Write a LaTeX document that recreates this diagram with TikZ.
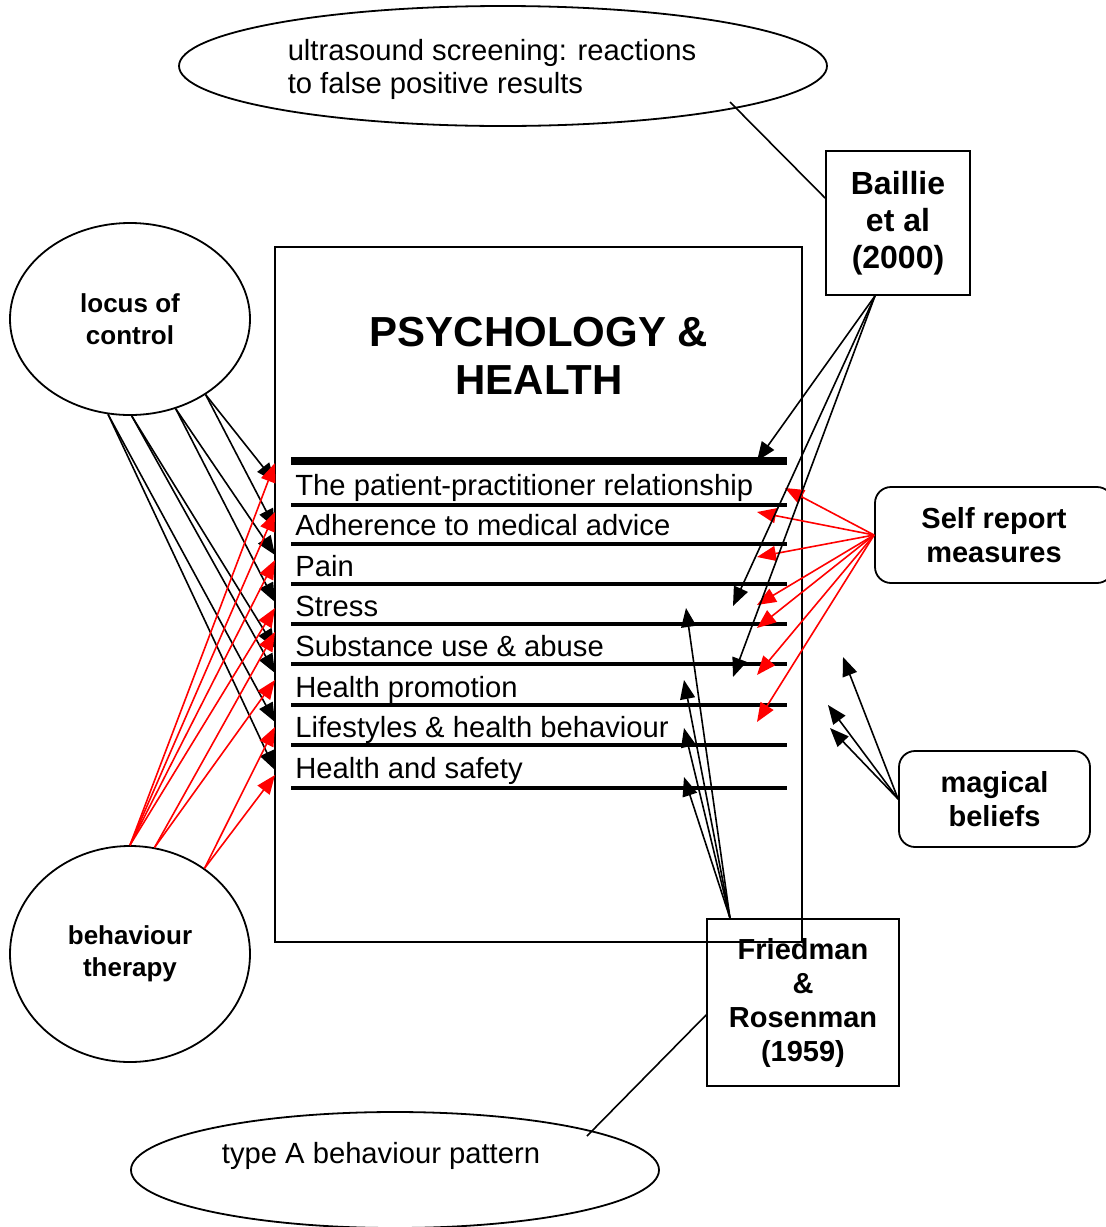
\documentclass[tikz,border=0pt]{standalone}
\usepackage{fontspec}
\setmainfont{Liberation Sans}
\usetikzlibrary{positioning, shapes.geometric, calc, arrows.meta}
\tikzset{
        concept-ellipse/.style={
            ellipse, draw, line width=0.9pt, inner sep=0pt, align=center,
            font=\fontsize{13}{16}\selectfont\bfseries
        },
        note-ellipse/.style={
            ellipse, draw, line width=0.9pt, inner sep=0pt
        },
        note-text/.style={align=left, font=\fontsize{14.6}{16.5}\selectfont},
        study-box/.style={
            rectangle, draw, line width=0.9pt, inner sep=0pt, align=center,
            font=\fontsize{14.5}{17}\selectfont\bfseries
        },
        method-box/.style={
            rectangle, rounded corners=8pt, draw, line width=0.9pt, inner sep=0pt, align=center,
            font=\fontsize{14.5}{17}\selectfont\bfseries
        },
        topic-row/.style={anchor=base west, inner sep=0pt, font=\fontsize{14.6}{17}\selectfont},
        row-rule/.style={line width=2pt},
        link/.style={line width=0.8pt, -{Triangle[length=9.5pt, width=7.5pt]}},
        red-link/.style={link, red},
        plain-link/.style={line width=0.8pt},
}

\begin{document}
\begin{tikzpicture}[x=0.5pt, y=-0.5pt]

        \useasboundingbox (0,0) rectangle (1106,1227);

        % DRAW NODES (placed at pixel positions of the sheet)
        \node[study-box, minimum width=263.5pt, minimum height=347.5pt] (psych) at (538.5,594.5) {};
        \node[font=\fontsize{21}{24}\selectfont\bfseries, align=center] (title) at (539,356) {PSYCHOLOGY \&\\HEALTH};
        \node[note-ellipse, minimum width=324pt, minimum height=60pt,
              label={[note-text, xshift=-5.5pt, yshift=-1.5pt]center:ultrasound screening: reactions\\to false positive results}] (screening) at (503,66) {};
        \node[note-ellipse, minimum width=264pt, minimum height=58pt,
              label={[note-text, xshift=-7pt, yshift=7pt]center:type A behaviour pattern}] (typea) at (395,1170) {};
        \node[concept-ellipse, minimum width=120pt, minimum height=96pt]  (locus)   at (130,319)  {locus of\\control};
        \node[concept-ellipse, minimum width=120pt, minimum height=108pt] (therapy) at (130,954)  {behaviour\\therapy};
        \node[study-box, minimum width=72pt, minimum height=72pt, font=\fontsize{16}{18.5}\selectfont\bfseries]
                                                                          (baillie) at (898,223)  {Baillie\\et al\\(2000)};
        \node[study-box, minimum width=96pt, minimum height=83.5pt]       (friedman) at (803,1002.5) {Friedman\\\&\\Rosenman\\(1959)};
        \node[method-box, minimum width=119pt, minimum height=48pt]       (selfreport) at (994,535) {Self report\\measures};
        \node[method-box, minimum width=95.5pt, minimum height=48pt]      (magical) at (994.5,799) {magical\\beliefs};

        % TOPIC ROWS
        \node[topic-row] (row1) at (295,495) {The patient-practitioner relationship};
        \node[topic-row] (row2) at (295,535) {Adherence to medical advice};
        \node[topic-row] (row3) at (295,576) {Pain};
        \node[topic-row] (row4) at (295,616) {Stress};
        \node[topic-row] (row5) at (295,656) {Substance use \& abuse};
        \node[topic-row] (row6) at (295,697) {Health promotion};
        \node[topic-row] (row7) at (295,737) {Lifestyles \& health behaviour};
        \node[topic-row] (row8) at (295,778) {Health and safety};

        % RULES BETWEEN ROWS
        \draw[row-rule, line width=4pt] (291,461) -- (787,461);
        \draw[row-rule] (291,505) -- (787,505);
        \draw[row-rule] (291,544) -- (787,544);
        \draw[row-rule] (291,584) -- (787,584);
        \draw[row-rule] (291,624) -- (787,624);
        \draw[row-rule] (291,664) -- (787,664);
        \draw[row-rule] (291,705) -- (787,705);
        \draw[row-rule] (291,745) -- (787,745);
        \draw[row-rule] (291,788) -- (787,788);

        % ARROW ENDS
        \coordinate (lc1) at (275,482);
        \coordinate (lc2) at (275,528);
        \coordinate (lc3) at (275,555);
        \coordinate (lc4) at (275,602);
        \coordinate (lc5) at (275,648);
        \coordinate (lc6) at (275,673);
        \coordinate (lc7) at (275,722);
        \coordinate (lc8) at (275,770);
        \coordinate (bt1) at (275,463);
        \coordinate (bt2) at (275,512);
        \coordinate (bt3) at (275,560);
        \coordinate (bt4) at (275,608);
        \coordinate (bt5) at (275,632);
        \coordinate (bt6) at (275,680);
        \coordinate (bt7) at (275,727);
        \coordinate (bt8) at (275,775);
        \coordinate (sr1) at (785,488);
        \coordinate (sr2) at (757,512);
        \coordinate (sr3) at (757,557);
        \coordinate (sr4) at (757,605);
        \coordinate (sr5) at (757,628);
        \coordinate (sr6) at (757,675);
        \coordinate (sr7) at (757,722);
        \coordinate (ba1) at (757,461);
        \coordinate (ba2) at (733,606);
        \coordinate (ba3) at (733,677);
        \coordinate (fr1) at (686,608);
        \coordinate (fr2) at (684,680);
        \coordinate (fr3) at (684,728);
        \coordinate (fr4) at (684,777);
        \coordinate (mb1) at (843,657);
        \coordinate (mb2) at (828,705);
        \coordinate (mb3) at (830,728);
        \coordinate (sc)  at (730,102);
        \coordinate (ta)  at (587,1136);

        % CONNECT LOCUS OF CONTROL
        \draw[link] (locus.-45)  -- (lc1);
        \draw[link] (locus.-45)  -- (lc2);
        \draw[link] (locus.-63)  -- (lc3);
        \draw[link] (locus.-63)  -- (lc4);
        \draw[link] (locus.-89)  -- (lc5);
        \draw[link] (locus.-89)  -- (lc6);
        \draw[link] (locus.-103) -- (lc7);
        \draw[link] (locus.-103) -- (lc8);

        % CONNECT BEHAVIOUR THERAPY
        \draw[red-link] (therapy.90) -- (bt1);
        \draw[red-link] (therapy.90) -- (bt2);
        \draw[red-link] (therapy.90) -- (bt3);
        \draw[red-link] (therapy.90) -- (bt4);
        \draw[red-link] (therapy.77) -- (bt5);
        \draw[red-link] (therapy.77) -- (bt6);
        \draw[red-link] (therapy.49) -- (bt7);
        \draw[red-link] (therapy.49) -- (bt8);

        % CONNECT SELF REPORT MEASURES
        \draw[red-link] (selfreport.west) -- (sr1);
        \draw[red-link] (selfreport.west) -- (sr2);
        \draw[red-link] (selfreport.west) -- (sr3);
        \draw[red-link] (selfreport.west) -- (sr4);
        \draw[red-link] (selfreport.west) -- (sr5);
        \draw[red-link] (selfreport.west) -- (sr6);
        \draw[red-link] (selfreport.west) -- (sr7);

        % CONNECT STUDIES
        \draw[link] ($(baillie.south)+(-23,0)$) -- (ba1);
        \draw[link] ($(baillie.south)+(-23,0)$) -- (ba2);
        \draw[link] ($(baillie.south)+(-23,0)$) -- (ba3);
        \draw[plain-link] ($(baillie.west)+(0,-25)$) -- (sc);
        \draw[link] ($(friedman.north)+(-73,0)$) -- (fr1);
        \draw[link] ($(friedman.north)+(-73,0)$) -- (fr2);
        \draw[link] ($(friedman.north)+(-73,0)$) -- (fr3);
        \draw[link] ($(friedman.north)+(-73,0)$) -- (fr4);
        \draw[plain-link] ($(friedman.west)+(0,12.5)$) -- (ta);

        % CONNECT MAGICAL BELIEFS
        \draw[link] (magical.west) -- (mb1);
        \draw[link] (magical.west) -- (mb2);
        \draw[link] (magical.west) -- (mb3);

\end{tikzpicture}
\end{document}
